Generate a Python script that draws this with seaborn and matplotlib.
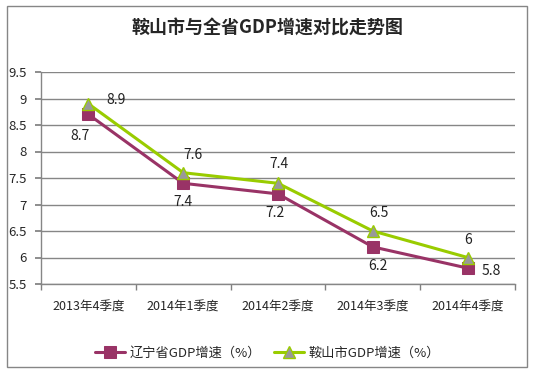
import matplotlib
matplotlib.use("Agg")
import matplotlib.pyplot as plt
import seaborn as sns
import pandas as pd
from matplotlib.patches import Rectangle

categories = ["2013年4季度", "2014年1季度", "2014年2季度", "2014年3季度", "2014年4季度"]
liaoning = [8.7, 7.4, 7.2, 6.2, 5.8]
anshan = [8.9, 7.6, 7.4, 6.5, 6.0]
liaoning_name = "辽宁省GDP增速（%）"
anshan_name = "鞍山市GDP增速（%）"
title = "鞍山市与全省GDP增速对比走势图"
yticks = [5.5, 6, 6.5, 7, 7.5, 8, 8.5, 9, 9.5]

sns.set_theme(style="white")
plt.rcParams['font.family'] = ['Noto Sans CJK SC', 'DejaVu Sans']

W, H = 535, 374
fig = plt.figure(figsize=(W / 100, H / 100), dpi=100)
ax = fig.add_axes([41 / W, 1 - 284 / H, (515 - 41) / W, (284 - 72) / H])

x = list(range(len(categories)))
df = pd.DataFrame({"x": x * 2,
                   "y": liaoning + anshan,
                   "s": [liaoning_name] * len(x) + [anshan_name] * len(x)})

c_ln = "#993366"
c_as = "#99CC00"
sns.lineplot(data=df[df.s == liaoning_name], x="x", y="y", ax=ax, color=c_ln,
             linewidth=2.2, marker="s", markersize=8, markerfacecolor=c_ln,
             markeredgecolor=c_ln, label=liaoning_name, zorder=3)
sns.lineplot(data=df[df.s == anshan_name], x="x", y="y", ax=ax, color=c_as,
             linewidth=2.2, marker="^", markersize=9, markerfacecolor="#999999",
             markeredgecolor=c_as, markeredgewidth=1, label=anshan_name, zorder=4)

ax.set_xlim(-0.5, len(categories) - 0.5)
ax.set_ylim(5.5, 9.5)
ax.set_yticks(yticks)
ax.set_yticklabels([f"{v:g}" for v in yticks], fontsize=9.5)
ax.set_xticks(x)
ax.set_xticklabels(categories, fontsize=9)
ax.tick_params(axis="x", length=0, pad=12)
ax.set_xticks([i - 0.5 for i in range(len(categories) + 1)], minor=True)
ax.tick_params(axis="x", which="minor", length=4, color="#808080", direction="out", bottom=True)
ax.tick_params(axis="y", length=4, color="#808080", direction="out", left=True, pad=6)
ax.grid(axis="y", color="#868686", linewidth=1)
ax.set_axisbelow(True)
ax.set_xlabel("")
ax.set_ylabel("")
for s in ["top", "right"]:
    ax.spines[s].set_visible(False)
for s in ["left", "bottom"]:
    ax.spines[s].set_color("#868686")
    ax.spines[s].set_linewidth(1)

ln_off = [(-8, -22), (0, -19), (-3, -19), (5, -19), (24, -3)]
as_off = [(28, 4), (10, 18), (1, 19), (6, 18), (1, 18)]
for i in x:
    ax.annotate(f"{liaoning[i]:g}", (i, liaoning[i]), xytext=ln_off[i], textcoords="offset pixels",
                ha="center", va="center", fontsize=10, color="#222222")
    ax.annotate(f"{anshan[i]:g}", (i, anshan[i]), xytext=as_off[i], textcoords="offset pixels",
                ha="center", va="center", fontsize=10, color="#222222")

fig.text(0.5, 1 - 28 / H, title, ha="center", va="center", fontsize=13, fontweight="bold")

leg = ax.legend(loc="center", bbox_to_anchor=(0.5, 1 - 353 / H), bbox_transform=fig.transFigure,
                ncol=2, frameon=False, fontsize=9.5, handlelength=2.3, handletextpad=0.3,
                columnspacing=1.0)

fig.patches.append(Rectangle((7 / W, 1 - 367 / H), (527 - 7) / W, (367 - 6) / H,
                             transform=fig.transFigure, fill=False, edgecolor="#868686", linewidth=1))

fig.savefig("out.png", dpi=100)
